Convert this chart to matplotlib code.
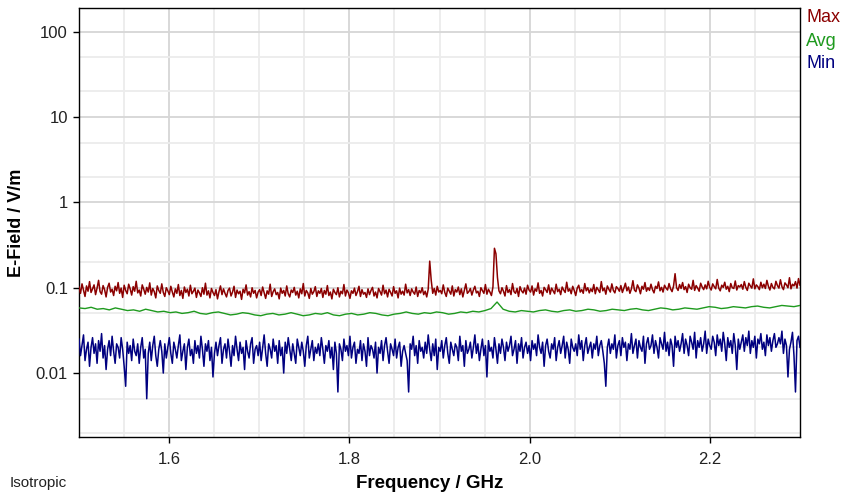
import numpy as np
import matplotlib
matplotlib.use('Agg')
import matplotlib.pyplot as plt
from matplotlib.ticker import FixedLocator, FuncFormatter, NullFormatter

plt.rcParams['font.family'] = ['Liberation Sans', 'DejaVu Sans']

# sweep range (GHz)
f_start, f_stop = 1.5, 2.3

# peak hold trace, mV/m
max_mv = [
    102, 86, 111, 94, 79, 105, 91, 118, 88, 97, 108, 83, 99, 122, 90, 84, 106, 95, 78, 101,
    113, 89, 96, 81, 104, 92, 115, 86, 99, 77, 107, 93, 85, 110, 97, 82, 103, 91, 119, 87,
    94, 80, 108, 96, 84, 101, 89, 114, 82, 98, 90, 76, 105, 93, 86, 111, 88, 79, 100, 92,
    83, 104, 89, 78, 97, 86, 109, 81, 93, 75, 102, 88, 96, 80, 107, 85, 91, 99, 77, 94,
    87, 79, 100, 84, 113, 82, 92, 76, 98, 88, 81, 95, 74, 90, 105, 83, 97, 86, 78, 93,
    99, 80, 89, 104, 77, 94, 85, 91, 73, 96, 87, 108, 82, 90, 78, 100, 86, 93, 76, 89,
    95, 81, 102, 87, 75, 92, 84, 110, 79, 90, 97, 83, 88, 74, 99, 86, 93, 80, 105, 85,
    78, 94, 88, 101, 82, 91, 76, 97, 85, 112, 80, 93, 87, 75, 98, 84, 90, 103, 79, 92,
    86, 98, 77, 93, 84, 106, 81, 89, 74, 96, 88, 83, 100, 78, 91, 85, 109, 80, 94, 87,
    75, 92, 86, 99, 81, 90, 104, 79, 95, 84, 88, 77, 97, 83, 93, 101, 80, 89, 76, 98,
    90, 82, 107, 85, 94, 78, 96, 88, 80, 103, 86, 92, 76, 99, 84, 91, 82, 110, 87, 95,
    81, 97, 89, 84, 102, 79, 93, 87, 100, 83, 91, 78, 96, 205, 122, 86, 98, 82, 104, 89,
    93, 85, 108, 88, 79, 99, 91, 84, 105, 80, 95, 89, 102, 83, 97, 78, 93, 111, 86, 90,
    98, 82, 94, 104, 87, 91, 79, 100, 93, 86, 109, 84, 96, 89, 81, 102, 290, 250, 132, 92,
    85, 100, 91, 80, 106, 88, 95, 83, 112, 90, 86, 98, 79, 103, 92, 87, 99, 84, 107, 94,
    89, 105, 82, 97, 91, 114, 86, 93, 80, 101, 95, 88, 108, 84, 99, 92, 85, 110, 90, 96,
    83, 102, 94, 88, 116, 91, 97, 85, 104, 93, 81, 99, 107, 89, 95, 86, 112, 92, 100, 87,
    97, 90, 109, 85, 101, 94, 88, 118, 92, 99, 84, 105, 96, 89, 111, 93, 87, 103, 98, 91,
    106, 88, 99, 113, 92, 102, 86, 97, 121, 94, 90, 108, 99, 85, 104, 96, 115, 91, 100, 93,
    110, 95, 87, 104, 98, 117, 92, 101, 89, 107, 99, 94, 112, 97, 90, 105, 146, 100, 93, 109,
    98, 115, 95, 103, 88, 110, 100, 96, 122, 93, 106, 99, 91, 113, 102, 95, 108, 97, 119, 101,
    94, 111, 103, 97, 125, 99, 92, 107, 101, 116, 96, 104, 90, 112, 100, 98, 120, 94, 106, 102,
    109, 96, 118, 101, 93, 113, 105, 99, 127, 97, 108, 103, 95, 116, 100, 110, 98, 122, 104, 94,
    112, 101, 97, 119, 106, 99, 124, 103, 95, 114, 108, 100, 131, 97, 110, 105, 118, 99, 128, 107,
]

# average trace, mV/m
avg_mv = [
    58, 57, 59, 56, 57, 55, 58, 56, 54, 55, 53, 56, 54, 52, 53, 51, 52, 50, 51, 53,
    50, 49, 51, 52, 50, 48, 49, 51, 50, 48, 47, 49, 50, 48, 49, 51, 49, 47, 48, 50,
    49, 51, 48, 47, 49, 50, 48, 49, 51, 50, 48, 47, 49, 50, 52, 50, 49, 51, 50, 52,
    51, 49, 50, 52, 51, 53, 52, 54, 57, 68, 56, 53, 52, 54, 53, 52, 54, 55, 53, 52,
    54, 55, 53, 54, 56, 55, 53, 54, 56, 55, 54, 56, 57, 55, 54, 56, 58, 57, 55, 56,
    58, 57, 56, 58, 60, 59, 57, 58, 60, 59, 58, 60, 61, 59, 58, 60, 62, 61, 60, 62,
]

# minimum hold trace, mV/m
min_mv = [
    25, 16, 21, 28, 14, 19, 23, 12, 20, 26, 17, 22, 13, 24, 18, 29, 15, 21, 11, 19,
    24, 16, 27, 18, 13, 22, 20, 15, 26, 19, 12, 7, 23, 17, 21, 14, 25, 18, 16, 22,
    13, 20, 26, 15, 19, 5, 17, 23, 14, 21, 27, 16, 12, 19, 24, 18, 10, 22, 15, 20,
    26, 17, 13, 23, 19, 15, 21, 28, 14, 18, 22, 11, 20, 25, 16, 19, 13, 24, 17, 21,
    15, 27, 19, 12, 22, 18, 24, 14, 20, 9, 17, 23, 16, 21, 26, 13, 19, 22, 15, 25,
    18, 12, 21, 16, 27, 19, 14, 23, 17, 20, 11, 24, 18, 15, 22, 26, 13, 19, 21, 16,
    23, 14, 20, 28, 17, 12, 22, 19, 15, 25, 18, 21, 13, 24, 16, 20, 10, 23, 17, 26,
    19, 14, 22, 17, 13, 25, 20, 16, 23, 18, 12, 21, 27, 15, 19, 24, 14, 20, 17, 22,
    16, 26, 19, 13, 21, 18, 24, 15, 20, 11, 23, 17, 6, 22, 19, 14, 25, 18, 21, 16,
    27, 15, 20, 23, 13, 19, 17, 24, 14, 22, 18, 12, 26, 16, 21, 19, 15, 23, 10, 20,
    17, 24, 14, 21, 26, 18, 13, 22, 19, 16, 25, 15, 20, 23, 12, 18, 21, 17, 14, 6,
    22, 19, 27, 16, 21, 13, 24, 18, 20, 15, 23, 17, 28, 19, 14, 22, 16, 25, 11, 20,
    18, 24, 15, 21, 26, 17, 13, 23, 19, 16, 22, 20, 14, 27, 18, 21, 12, 24, 17, 19,
    23, 15, 20, 28, 17, 22, 14, 19, 25, 16, 21, 9, 24, 18, 20, 15, 26, 19, 13, 22,
    17, 25, 20, 14, 23, 18, 21, 27, 16, 19, 24, 13, 22, 18, 26, 15, 20, 23, 17, 21,
    14, 24, 19, 22, 16, 28, 20, 17, 23, 12, 21, 25, 18, 15, 22, 19, 26, 14, 20, 24,
    17, 21, 27, 15, 23, 19, 13, 25, 20, 18, 22, 16, 28, 19, 24, 14, 21, 26, 17, 20,
    23, 15, 22, 19, 27, 16, 21, 24, 18, 13, 7, 20, 25, 17, 22, 19, 28, 15, 21, 24,
    16, 26, 20, 23, 14, 22, 19, 29, 17, 21, 25, 15, 24, 20, 18, 27, 13, 22, 26, 19,
    21, 28, 17, 24, 20, 15, 26, 22, 19, 30, 18, 23, 16, 25, 21, 12, 27, 20, 24, 18,
    22, 29, 17, 25, 21, 16, 27, 23, 19, 30, 15, 24, 20, 26, 18, 22, 31, 17, 25, 21,
    19, 27, 23, 16, 28, 21, 25, 18, 30, 22, 14, 26, 20, 24, 17, 29, 21, 11, 25, 19,
    23, 28, 18, 26, 21, 31, 17, 24, 20, 27, 15, 25, 22, 29, 19, 23, 16, 28, 21, 26,
    18, 24, 29, 20, 22, 26, 22, 31, 17, 25, 21, 9, 19, 23, 30, 16, 6, 24, 27, 20,
]

series = [
    ('Max', max_mv, '#8b0000', 1.1),
    ('Avg', avg_mv, '#1e9a1e', 1.0),
    ('Min', min_mv, '#000080', 1.1),
]

fig = plt.figure(figsize=(8.43, 4.95), dpi=100)
fig.patch.set_facecolor('white')
ax = fig.add_axes([79 / 843, 58 / 495, 721 / 843, 429 / 495])

for name, vals, col, lw in series:
    v = np.array(vals, dtype=float) / 1000.0
    f = np.linspace(f_start, f_stop, len(v))
    ax.plot(f, v, color=col, lw=lw, zorder=3)

ax.set_yscale('log')
ax.set_xlim(f_start, f_stop)
ax.set_ylim(0.00178, 190)

# grid: decades / 0.2 GHz major, 2-5 and 0.05 GHz minor
ax.xaxis.set_major_locator(FixedLocator([1.6, 1.8, 2.0, 2.2]))
ax.xaxis.set_minor_locator(FixedLocator(np.arange(1.55, 2.3, 0.05)))
ax.xaxis.set_major_formatter(FuncFormatter(lambda x, p: f'{x:.1f}'))
ax.yaxis.set_major_locator(FixedLocator([0.01, 0.1, 1, 10, 100]))
ax.yaxis.set_minor_locator(FixedLocator([0.002, 0.005, 0.02, 0.05, 0.2, 0.5,
                                         2, 5, 20, 50]))
ax.yaxis.set_major_formatter(FuncFormatter(lambda y, p: f'{y:g}'))
ax.yaxis.set_minor_formatter(NullFormatter())

ax.grid(which='major', color='#d6d6d6', lw=1.3, zorder=0)
ax.grid(which='minor', color='#ececec', lw=1.3, zorder=0)
ax.set_axisbelow(True)

ax.tick_params(axis='both', which='major', direction='out', length=4, width=1,
               labelsize=12, colors='black', labelcolor='#222222')
ax.tick_params(axis='x', which='major', pad=7)
ax.tick_params(axis='y', which='major', pad=4)
ax.tick_params(which='minor', length=0)
for s in ax.spines.values():
    s.set_color('black')
    s.set_linewidth(1.0)

ax.set_xlabel('Frequency / GHz', fontsize=13.5, fontweight='bold', va='center')
ax.xaxis.set_label_coords((430 - 79) / 721, (437 - 483) / 429)
ax.set_ylabel('E-Field / V/m', fontsize=13, fontweight='bold', labelpad=8)

# trace names to the right of the plot
for i, (name, vals, col, lw) in enumerate(series):
    fig.text(806 / 843, 1 - (18 + 23 * i) / 495, name, color=col,
             fontsize=13, ha='left', va='center')

fig.text(10 / 843, 1 - 483 / 495, 'Isotropic', fontsize=11, color='#222222',
         ha='left', va='center')

fig.savefig('out.png', dpi=100, facecolor='white')
